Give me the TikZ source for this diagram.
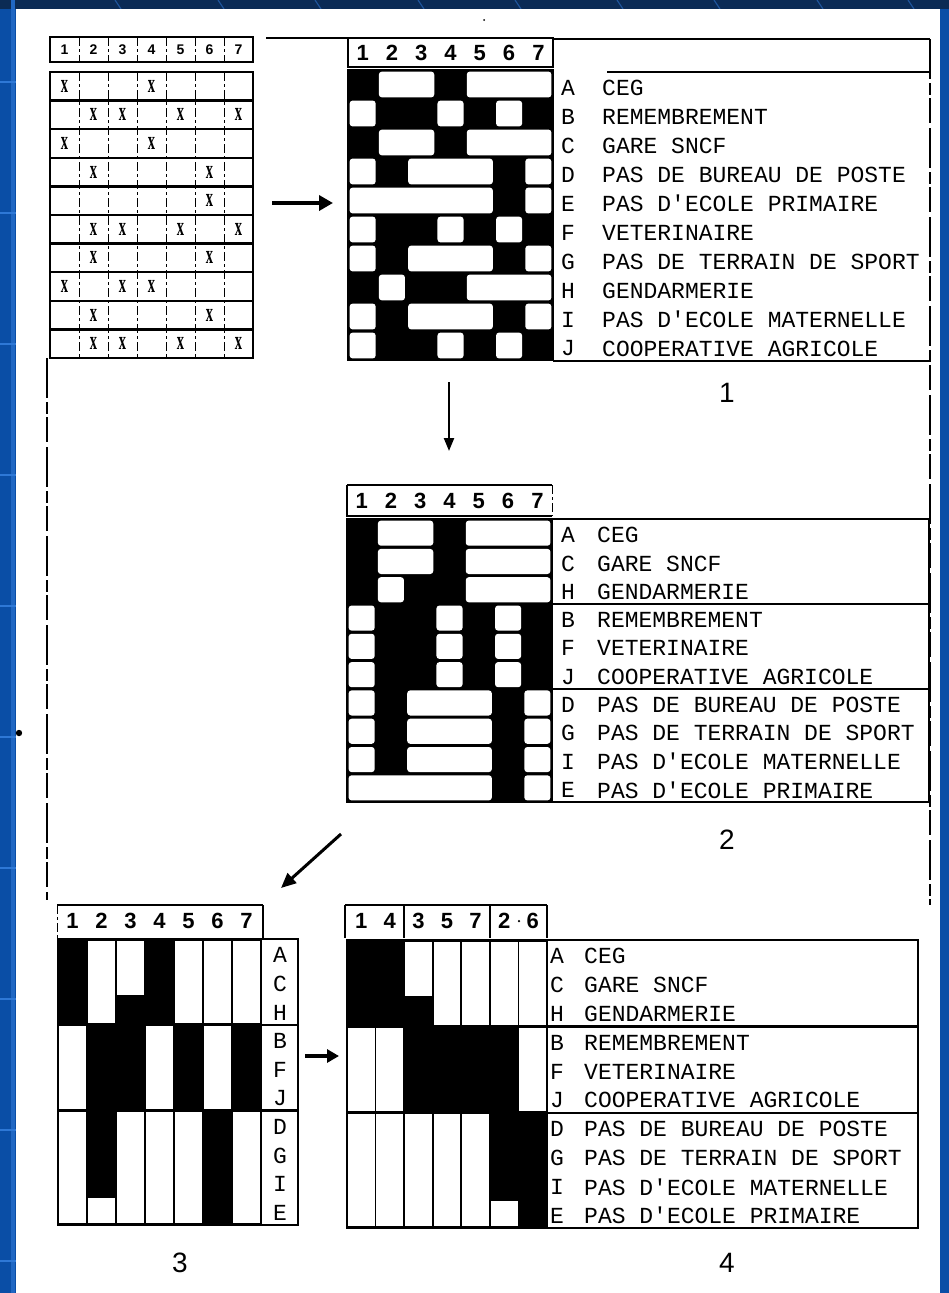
\documentclass[tikz,border=0pt]{standalone}
\usepackage{fontspec}
\setmainfont{Liberation Sans}
\newfontfamily\lblfont{Liberation Mono}
\newfontfamily\numfont{Liberation Sans}
\newfontfamily\xfont{Liberation Serif}
\usetikzlibrary{arrows.meta}
\definecolor{bgblue}{HTML}{0A4EA6}
\definecolor{bgnavy}{HTML}{0B2B55}
\definecolor{bgline}{HTML}{2E78D6}
\newcommand\hruns[5]{%
  \foreach \r/\rl in {#5} {
    \foreach \s/\e in \rl {
      \fill[white, rounded corners=3pt] ({#1+(\s-1)*#3+1.6},{#2+\r*#4+1.6}) rectangle ({#1+\e*#3-1.6},{#2+(\r+1)*#4-1.6});
    }
  }%
}
\newcommand\vruns[5]{%
  \foreach \c/\rs/\re in {#5} {
    \fill[white] ({#1+(\c-1)*#3+0.9},{#2+\rs*#4+1.6}) rectangle ({#1+\c*#3-0.9},{#2+(\re+1)*#4-1.6});
  }%
}
\begin{document}
\begin{tikzpicture}[x=1pt,y=-1pt,
  lbl/.style={font=\lblfont\fontsize{23}{23}\selectfont, anchor=west, inner sep=0},
  lett/.style={font=\lblfont\fontsize{23}{23}\selectfont, anchor=center, inner sep=0},
  hnum/.style={font=\numfont\bfseries\fontsize{22}{22}\selectfont, inner sep=0},
  tnum/.style={font=\numfont\bfseries\fontsize{14}{14}\selectfont, inner sep=0},
  xmark/.style={font=\xfont\bfseries\fontsize{17}{17}\selectfont, inner sep=0, xscale=0.85, yscale=1.55},
  bignum/.style={font=\numfont\fontsize{28}{28}\selectfont, inner sep=0},
  thinline/.style={line width=1.3},
  boxline/.style={line width=1.8},
  groupline/.style={line width=2.4},
  framedash/.style={line width=1.6, dash pattern=on 40pt off 4pt on 12pt off 3pt on 25pt off 5pt},
  cdash/.style={line width=1, dash pattern=on 9pt off 3pt on 3pt off 3pt},
  bigarrow/.style={line width=4.5, -{Triangle[length=14pt,width=15pt]}},
  smallarrow/.style={line width=2.2, -{Triangle[length=13pt,width=10pt]}}
]
\useasboundingbox (0,0) rectangle (949,1293);
% ---------- slide background ----------
\fill[bgblue] (0,0) rectangle (949,1293);
\fill[bgnavy] (0,0) rectangle (949,9);
\fill[bgline!60!bgblue] (11,0) rectangle (15,1293);
\foreach \yy in {82,213,344,475,606,737,868,999,1130,1261}
  \fill[bgline] (0,{\yy-1}) rectangle (16,{\yy+1});
\foreach \xx in {115,218,315,418,515,617,714,817,908}
  \draw[bgline!55!bgnavy, line width=1.2] (\xx,0) -- ({\xx+6},9);
\fill[white] (16,9) rectangle (940,1293);
\node[circle, fill=black, inner sep=0, minimum size=6.4] (dotL) at (19,733) {};
\node[circle, fill=black, inner sep=0, minimum size=2] (dotT) at (484,20) {};

% ---------- outer frame ----------
\draw[boxline] (266,38) -- (348,38);
\draw[boxline] (553,39) -- (930,39);
\draw[framedash] (930,39) -- (930,905);
\draw[framedash] (47,358) -- (47,900);

% ---------- initial table ----------
\draw[thinline] (50,37) rectangle (253,62);
\foreach \k in {1,...,6} \draw[cdash] ({50+\k*29},37) -- ({50+\k*29},62);
\foreach \k in {1,...,7} \node[tnum] (t0h\k) at ({50+(\k-0.5)*29},50) {\k};
\draw[thinline] (50,72) rectangle (253,358);
\foreach \r in {1,...,9} \draw[groupline] (50,{72+\r*28.6}) -- (253,{72+\r*28.6});
\draw[groupline] (50,72) -- (253,72);
\foreach \k in {1,...,6} \draw[cdash] ({50+\k*29},72) -- ({50+\k*29},358);
\foreach \r/\cl in {0/{1,4},1/{2,3,5,7},2/{1,4},3/{2,6},4/{6},5/{2,3,5,7},6/{2,6},7/{1,3,4},8/{2,6},9/{2,3,5,7}} {
  \foreach \c in \cl {
    \node[xmark] (x\r\c) at ({50+(\c-0.5)*29},{72+(\r+0.5)*28.6}) {x};
  }
}

% ---------- matrix 1 ----------
\fill[black] (348,70) rectangle (553,360);
\hruns{348}{70}{29.29}{29}{0/{2/3,5/7},1/{1/1,4/4,6/6},2/{2/3,5/7},3/{1/1,3/5,7/7},4/{1/5,7/7},5/{1/1,4/4,6/6},6/{1/1,3/5,7/7},7/{2/2,5/7},8/{1/1,3/5,7/7},9/{1/1,4/4,6/6}}
\draw[thinline] (348,70) rectangle (553,360);
\draw[boxline] (348,38) rectangle (553,67);
\foreach \k in {1,...,7} \node[hnum] (m1h\k) at ({348+(\k-0.5)*29.29},53) {\k};
\draw[boxline] (607,72) -- (930,72);
\draw[boxline] (553,361) -- (930,361);
\foreach \r/\L/\T in {0/A/CEG,1/B/REMEMBREMENT,2/C/GARE SNCF,3/D/PAS DE BUREAU DE POSTE,4/E/PAS D'ECOLE PRIMAIRE,5/F/VETERINAIRE,6/G/PAS DE TERRAIN DE SPORT,7/H/GENDARMERIE,8/I/PAS D'ECOLE MATERNELLE,9/J/COOPERATIVE AGRICOLE} {
  \node[lett] (m1L\r) at (568,{70+(\r+0.5)*29+3}) {\L};
  \node[lbl] (m1T\r) at (602,{70+(\r+0.5)*29+3}) {\T};
}
\node[bignum] (n1) at (727,393) {1};

% ---------- matrix 2 ----------
\fill[black] (347,519) rectangle (552,802);
\hruns{347}{519}{29.29}{28.3}{0/{2/3,5/7},1/{2/3,5/7},2/{2/2,5/7},3/{1/1,4/4,6/6},4/{1/1,4/4,6/6},5/{1/1,4/4,6/6},6/{1/1,3/5,7/7},7/{1/1,3/5,7/7},8/{1/1,3/5,7/7},9/{1/5,7/7}}
\draw[thinline] (347,519) rectangle (552,802);
\draw[thinline] (347,485) -- (552,485);
\draw[thinline] (347,485) -- (347,516) -- (552,516);
\draw[cdash] (552,485) -- (552,516);
\foreach \k in {1,...,7} \node[hnum] (m2h\k) at ({347+(\k-0.5)*29.29},501) {\k};
\draw[groupline] (552,519) rectangle (929,802);
\draw[groupline] (347,{519+3*28.3}) -- (929,{519+3*28.3});
\draw[groupline] (347,{519+6*28.3}) -- (929,{519+6*28.3});
\foreach \r/\L/\T in {0/A/CEG,1/C/GARE SNCF,2/H/GENDARMERIE,3/B/REMEMBREMENT,4/F/VETERINAIRE,5/J/COOPERATIVE AGRICOLE,6/D/PAS DE BUREAU DE POSTE,7/G/PAS DE TERRAIN DE SPORT,8/I/PAS D'ECOLE MATERNELLE,9/E/PAS D'ECOLE PRIMAIRE} {
  \node[lett] (m2L\r) at (568,{519+(\r+0.5)*28.3+2}) {\L};
  \node[lbl] (m2T\r) at (597,{519+(\r+0.5)*28.3+2}) {\T};
}
\node[bignum] (n2) at (727,840) {2};

% ---------- matrix 3 ----------
\fill[black] (58,939) rectangle (261,1225);
\vruns{58}{939}{29}{28.6}{2/0/2,3/0/1,5/0/2,6/0/2,7/0/2,1/3/5,4/3/5,6/3/5,1/6/9,2/9/9,3/6/9,4/6/9,5/6/9,7/6/9}
\draw[thinline] (58,939) rectangle (298,1225);
\draw[thinline] (261,939) -- (261,1225);
\draw[groupline] (58,{939+3*28.6}) -- (298,{939+3*28.6});
\draw[groupline] (58,{939+6*28.6}) -- (298,{939+6*28.6});
\draw[groupline] (58,939) -- (298,939);
\draw[boxline] (57,905) -- (263,905);
\draw[cdash] (57,905) -- (57,939);
\draw[boxline] (263,905) -- (263,939);
\foreach \k in {1,...,7} \node[hnum] (m3h\k) at ({58+(\k-0.5)*29},921) {\k};
\foreach \r/\L in {0/A,1/C,2/H,3/B,4/F,5/J,6/D,7/G,8/I,9/E} {
  \node[lett] (m3L\r) at (280,{939+(\r+0.5)*28.6+2}) {\L};
}
\node[bignum] (n3) at (180,1263) {3};

% ---------- matrix 4 ----------
\fill[black] (347,940) rectangle (547,1228);
\vruns{347}{940}{28.57}{28.8}{3/0/1,4/0/2,5/0/2,6/0/2,7/0/2,1/3/5,2/3/5,7/3/5,1/6/9,2/6/9,3/6/9,4/6/9,5/6/9,6/9/9}
\draw[thinline] (347,940) rectangle (547,1228);
\draw[groupline] (547,940) rectangle (918,1228);
\draw[groupline] (347,940) -- (547,940);
\draw[groupline] (347,{940+3*28.8}) -- (918,{940+3*28.8});
\draw[groupline] (347,{940+6*28.8}) -- (918,{940+6*28.8});
\draw[boxline] (345,905) -- (547,905);
\draw[boxline] (345,905) -- (345,938);
\draw[boxline] (547,905) -- (547,938);
\draw[boxline] (404,905) -- (404,938);
\draw[boxline] (490,905) -- (490,938);
\foreach \k/\v in {1/1,2/4,3/3,4/5,5/7,6/2,7/6} \node[hnum] (m4h\k) at ({347+(\k-0.5)*28.57},921) {\v};
\node[circle, fill=black, inner sep=0, minimum size=2.5] (m4dot) at (519,921) {};
\foreach \r/\L/\T in {0/A/CEG,1/C/GARE SNCF,2/H/GENDARMERIE,3/B/REMEMBREMENT,4/F/VETERINAIRE,5/J/COOPERATIVE AGRICOLE,6/D/PAS DE BUREAU DE POSTE,7/G/PAS DE TERRAIN DE SPORT,8/I/PAS D'ECOLE MATERNELLE,9/E/PAS D'ECOLE PRIMAIRE} {
  \node[lett] (m4L\r) at (557,{940+(\r+0.5)*28.8+2}) {\L};
  \node[lbl] (m4T\r) at (584,{940+(\r+0.5)*28.8+2}) {\T};
}
\node[bignum] (n4) at (727,1263) {4};

% ---------- arrows ----------
\coordinate (a1s) at (272,203);
\coordinate (a1e) at (333,203);
\draw[bigarrow] (a1s) -- (a1e);
\coordinate (a2s) at (449,382);
\coordinate (a2e) at (449,451);
\draw[smallarrow] (a2s) -- (a2e);
\coordinate (a3s) at (341,834);
\coordinate (a3e) at (281,888);
\draw[line width=3, -{Triangle[length=15pt,width=13pt]}] (a3s) -- (a3e);
\coordinate (a4s) at (305,1056);
\coordinate (a4e) at (339,1056);
\draw[line width=4, -{Triangle[length=12pt,width=13pt]}] (a4s) -- (a4e);
\end{tikzpicture}
\end{document}
